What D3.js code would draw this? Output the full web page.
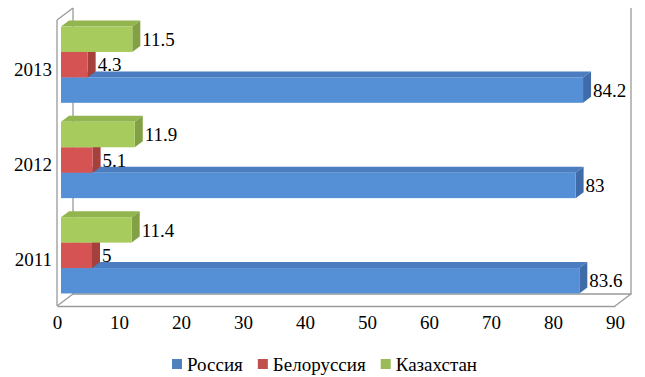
<!DOCTYPE html>
<html><head><meta charset="utf-8">
<script src="https://cdn.jsdelivr.net/npm/d3@7"></script>
</head>
<body style="margin:0">
<svg id="c" width="645" height="377" font-family="Liberation Serif, serif"></svg>
<script>
const categories = ["2011", "2012", "2013"];
const seriesNames = ["Россия", "Белоруссия", "Казахстан"];
const russia = [83.6, 83, 84.2];
const belarus = [5, 5.1, 4.3];
const kazakhstan = [11.4, 11.9, 11.5];
const xTicks = [0, 10, 20, 30, 40, 50, 60, 70, 80, 90];

const seriesValues = [russia, belarus, kazakhstan];
const colors = [
  {front: "#5590D6", top: "#4B7DC0", side: "#3F6CA8", legend: "#4F81BD"},
  {front: "#D55353", top: "#BF4A47", side: "#A6403D", legend: "#C0504D"},
  {front: "#A8CB5E", top: "#93B550", side: "#82A145", legend: "#9BBB59"}
];

const svg = d3.select("#c");
const fontSize = 19;
const FONT = '"Liberation Serif"';

function txt(sel) {
  return sel.attr("font-family", "Liberation Serif, serif").style("font-family", FONT)
    .attr("font-size", fontSize).attr("fill", "#000");
}

// plot front plane
const x = d3.scaleLinear().domain([0, 90]).range([57, 615]);
const y = d3.scaleBand().domain(categories.slice().reverse()).range([20, 306]).padding(0);
const inner = d3.scaleBand().domain([2, 1, 0]).range([0.1 * y.bandwidth(), 0.9 * y.bandwidth()]).padding(0);

const DX = 16, DY = -12; // full depth
const z0 = 0.25, z1 = 0.75; // bar depth
const wallColor = "#9a9a9a";

const g = svg.append("g");

// back wall / floor lines
const walls = g.append("g").attr("stroke", wallColor).attr("stroke-width", 1.3).attr("fill", "none");
const [r0, r1] = y.range();
walls.append("path").attr("d", `M${x(0)+DX},${r0+DY}V${r1+DY}H${x(90)+DX}V${r0+DY}`);
walls.append("path").attr("d", `M${x(0)},${r1}L${x(0)+DX},${r1+DY}`);
walls.append("path").attr("d", `M${x(90)},${r1}L${x(90)+DX},${r1+DY}`);
walls.append("path").attr("d", `M${x(0)},${r0}L${x(0)+DX},${r0+DY}`);

// bars
const fx = DX * z0, fy = DY * z0;
const bx = DX * (z1 - z0), by = DY * (z1 - z0);
categories.forEach((cat, ci) => {
  [0, 1, 2].forEach(si => {
    const v = seriesValues[si][ci];
    const x0 = x(0) + fx, x1 = x(v) + fx;
    const yt = y(cat) + inner(si) + fy, h = inner.bandwidth();
    const c = colors[si];
    const bg = g.append("g");
    bg.append("path").attr("fill", c.top)
      .attr("d", `M${x0},${yt}L${x0+bx},${yt+by}L${x1+bx},${yt+by}L${x1},${yt}Z`);
    bg.append("path").attr("fill", c.side)
      .attr("d", `M${x1},${yt}L${x1+bx},${yt+by}L${x1+bx},${yt+h+by}L${x1},${yt+h}Z`);
    bg.append("rect").attr("fill", c.front)
      .attr("x", x0).attr("y", yt).attr("width", x1 - x0).attr("height", h);
  });
});

// value labels
categories.forEach((cat, ci) => {
  [0, 1, 2].forEach(si => {
    const v = seriesValues[si][ci];
    txt(g.append("text")).attr("x", x(v) + fx + 10)
      .attr("y", y(cat) + inner(si) + fy + inner.bandwidth() / 2)
      .attr("dy", "0.35em")
      .text(String(v));
  });
});

// front left wall line
g.append("line").attr("stroke", wallColor).attr("stroke-width", 1.3)
  .attr("x1", x(0)).attr("x2", x(0)).attr("y1", r0).attr("y2", r1);

// x axis
const xa = g.append("g").attr("transform", `translate(0,${r1})`)
  .call(d3.axisBottom(x).tickValues(xTicks).tickSize(0).tickPadding(10).tickFormat(d3.format("d")));
xa.attr("font-family", "Liberation Serif, serif").attr("font-size", fontSize);
xa.select(".domain").attr("stroke", wallColor).attr("stroke-width", 1.3);
txt(xa.selectAll("text"));

// category labels
txt(g.selectAll(".cat").data(categories).join("text"))
  .attr("x", 52).attr("y", d => y(d) + y.bandwidth() / 2 + 1.5)
  .attr("dy", "0.35em").attr("text-anchor", "end")
  .text(d => d);

// legend
const lg = svg.append("g");
let lx = 172;
seriesNames.forEach((name, i) => {
  lg.append("rect").attr("x", lx).attr("y", 359).attr("width", 10).attr("height", 10).attr("fill", colors[i].legend);
  const t = txt(lg.append("text")).attr("x", lx + 15).attr("y", 364).attr("dy", "0.35em").text(name);
  lx += 15 + t.node().getComputedTextLength() + 15;
});
</script>
</body></html>
